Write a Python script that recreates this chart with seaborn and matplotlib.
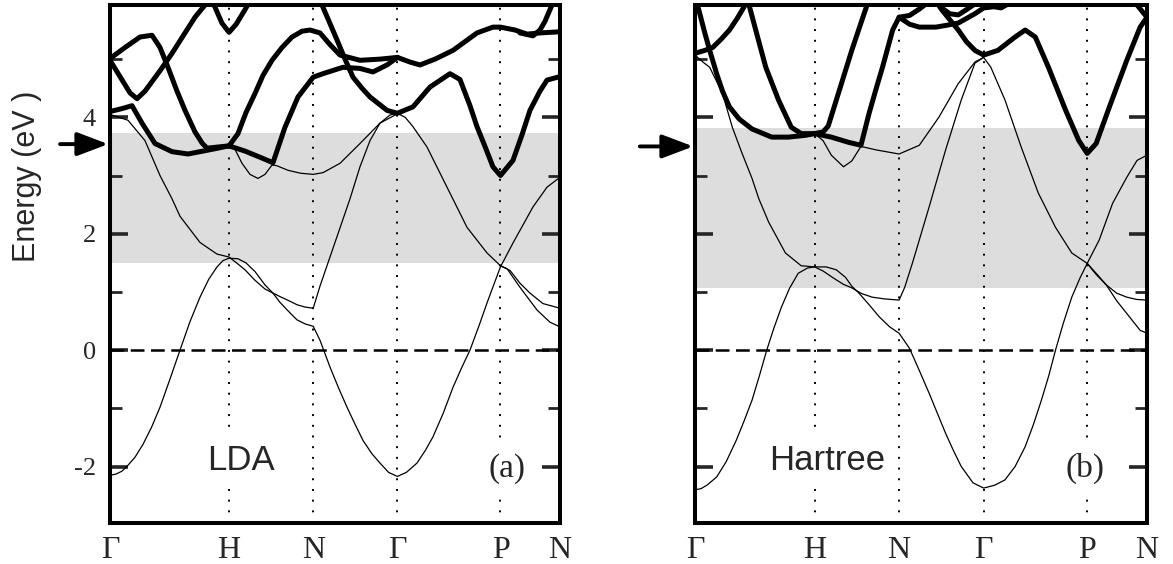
import matplotlib
matplotlib.use('Agg')
import pandas as pd
import matplotlib.pyplot as plt
import seaborn as sns

# high-symmetry points along the bcc path (units of 2pi/a)
sym_k = [0, 1.0, 1.7071, 2.4142, 3.2802, 3.7802]
sym_labels = ['Γ', 'H', 'N', 'Γ', 'P', 'N']

# ---- LDA bands (k, E in eV) ----
lda_t1_k = [0, 0.05, 0.10, 0.15, 0.21, 0.277, 0.35, 0.42, 0.50, 0.588, 0.67, 0.756, 0.83, 0.899, 0.95, 1.0,
            1.075, 1.142, 1.218, 1.302, 1.369, 1.428, 1.512, 1.571, 1.640, 1.707, 1.764, 1.848, 1.92, 1.991,
            2.06, 2.125, 2.20, 2.268, 2.34, 2.414, 2.49, 2.579, 2.65, 2.713, 2.80, 2.881, 2.95, 3.024, 3.10,
            3.167, 3.225, 3.280, 3.385, 3.553, 3.671, 3.780]
lda_t1_e = [-2.15, -2.13, -2.08, -1.98, -1.84, -1.62, -1.32, -0.98, -0.52, 0.0, 0.48, 0.91, 1.22, 1.43, 1.54,
            1.58, 1.57, 1.50, 1.35, 1.12, 0.98, 0.82, 0.64, 0.52, 0.45, 0.41, 0.17, -0.29, -0.65, -0.98,
            -1.28, -1.55, -1.78, -1.94, -2.10, -2.17, -2.10, -1.94, -1.72, -1.49, -1.08, -0.64, -0.32, 0.0,
            0.42, 0.81, 1.13, 1.43, 1.84, 2.46, 2.80, 2.97]
lda_t2_k = [0, 0.151, 0.294, 0.420, 0.521, 0.588, 0.756, 0.899, 1.0, 1.075, 1.134, 1.218, 1.302, 1.369, 1.428,
            1.512, 1.571, 1.640, 1.707, 1.764, 1.848, 1.932, 2.016, 2.100, 2.184, 2.268, 2.352, 2.414, 2.480,
            2.545, 2.663, 2.831, 2.999, 3.167, 3.280, 3.360, 3.444, 3.528, 3.637, 3.780]
lda_t2_e = [4.05, 3.95, 3.60, 3.00, 2.60, 2.30, 1.85, 1.65, 1.60, 1.48, 1.38, 1.20, 1.05, 0.98, 0.92,
            0.84, 0.78, 0.74, 0.72, 1.10, 1.60, 2.10, 2.60, 3.15, 3.60, 3.90, 4.04, 4.07, 4.00,
            3.84, 3.49, 2.80, 2.11, 1.67, 1.45, 1.37, 1.15, 0.98, 0.80, 0.72]
lda_t3_k = [1.0, 1.05, 1.109, 1.176, 1.243, 1.302, 1.361, 1.40, 1.495, 1.60, 1.707, 1.790, 1.932, 2.100,
            2.268, 2.414]
lda_t3_e = [3.51, 3.45, 3.21, 3.02, 2.95, 3.02, 3.18, 3.17, 3.09, 3.04, 3.02, 3.05, 3.21, 3.55, 3.90, 4.06]
lda_t4_k = [3.280, 3.335, 3.444, 3.587, 3.696, 3.780]
lda_t4_e = [1.45, 1.40, 1.08, 0.69, 0.48, 0.40]
lda_u1_k = [0, 0.101, 0.185, 0.269, 0.378, 0.521, 0.655, 0.857, 1.0, 1.134, 1.277, 1.369, 1.470, 1.579,
            1.707, 1.789, 1.957, 2.100, 2.209, 2.327, 2.414, 2.520, 2.604, 2.730, 2.881, 2.982, 3.083,
            3.217, 3.280, 3.402, 3.503, 3.612, 3.780]
lda_u1_e = [4.10, 4.15, 4.20, 3.90, 3.55, 3.41, 3.37, 3.45, 3.51, 3.42, 3.30, 3.22, 3.83, 4.35,
            4.69, 4.75, 4.86, 4.84, 4.78, 4.90, 5.03, 4.95, 4.90, 5.00, 5.15, 5.30, 5.45,
            5.55, 5.55, 5.50, 5.43, 5.45, 5.47]
lda_u2_k = [0, 0.126, 0.252, 0.353, 0.420, 0.487, 0.563, 0.630, 0.714, 0.773, 0.815, 0.907, 1.0, 1.075,
            1.142, 1.218, 1.285, 1.361, 1.445, 1.529, 1.613, 1.680, 1.764, 1.848, 1.932, 2.100, 2.268, 2.414]
lda_u2_e = [5.01, 5.20, 5.38, 5.41, 5.20, 4.86, 4.45, 4.12, 3.75, 3.56, 3.47, 3.49, 3.51, 3.72,
            4.08, 4.41, 4.72, 4.98, 5.20, 5.38, 5.48, 5.50, 5.45, 5.25, 5.07, 4.98, 5.00, 5.03]
lda_u3_k = [0, 0.084, 0.168, 0.227, 0.294, 0.420, 0.521, 0.630, 0.714, 0.798, 0.836, 0.874, 0.940, 1.0,
            1.060, 1.134, 1.176, 1.302, 1.512, 1.680, 1.781, 1.907, 1.974, 2.041, 2.117, 2.184, 2.327,
            2.414, 2.545, 2.688, 2.856, 2.940, 3.024, 3.083, 3.150, 3.217, 3.280, 3.385, 3.461, 3.528,
            3.612, 3.671, 3.780]
lda_u3_e = [4.98, 4.70, 4.42, 4.32, 4.45, 4.80, 5.10, 5.45, 5.72, 5.93, 6.00, 5.93, 5.62, 5.46,
            5.60, 5.85, 6.00, 6.40, 6.60, 6.30, 5.93, 5.33, 5.00, 4.69, 4.50, 4.35, 4.12,
            4.07, 4.18, 4.52, 4.75, 4.65, 4.20, 3.84, 3.50, 3.15, 3.00, 3.26, 3.70, 4.12,
            4.45, 4.64, 4.70]
lda_u4_k = [3.444, 3.553, 3.612, 3.654, 3.696, 3.738, 3.780]
lda_u4_e = [5.45, 5.40, 5.50, 5.65, 5.85, 6.05, 6.20]

# ---- Hartree bands ----
hf_t1_k = [0, 0.05, 0.10, 0.181, 0.26, 0.345, 0.41, 0.477, 0.54, 0.600, 0.66, 0.723, 0.79, 0.863, 0.94, 1.0,
           1.097, 1.182, 1.259, 1.311, 1.371, 1.456, 1.542, 1.628, 1.707, 1.754, 1.794, 1.876, 1.958, 2.03,
           2.096, 2.16, 2.227, 2.325, 2.414, 2.507, 2.592, 2.677, 2.761, 2.83, 2.897, 2.96, 3.015, 3.08,
           3.151, 3.22, 3.280, 3.380, 3.492, 3.611, 3.697, 3.780]
hf_t1_e = [-2.40, -2.38, -2.32, -2.18, -1.92, -1.55, -1.22, -0.86, -0.43, 0.0, 0.38, 0.74, 1.06, 1.32, 1.41,
           1.43, 1.43, 1.38, 1.25, 1.10, 0.98, 0.78, 0.57, 0.40, 0.29, 0.15, 0.03, -0.35, -0.74, -1.10,
           -1.43, -1.72, -2.00, -2.28, -2.37, -2.32, -2.23, -2.00, -1.66, -1.28, -0.86, -0.43, 0.0, 0.46,
           0.91, 1.24, 1.49, 1.89, 2.52, 2.97, 3.26, 3.35]
hf_t2_k = [0, 0.066, 0.123, 0.230, 0.312, 0.394, 0.477, 0.534, 0.616, 0.756, 0.888, 1.0, 1.071, 1.157,
           1.242, 1.311, 1.396, 1.482, 1.585, 1.707, 1.754, 1.819, 1.958, 2.096, 2.227, 2.341, 2.414,
           2.474, 2.592, 2.728, 2.871, 3.015, 3.151, 3.280, 3.355, 3.440, 3.526, 3.611, 3.697, 3.780]
hf_t2_e = [5.07, 4.95, 4.86, 4.41, 3.83, 3.38, 2.95, 2.60, 2.20, 1.67, 1.45, 1.43, 1.36, 1.24,
           1.13, 1.07, 0.97, 0.91, 0.88, 0.86, 1.08, 1.50, 2.46, 3.44, 4.30, 4.93, 5.03,
           4.86, 4.30, 3.49, 2.70, 2.11, 1.67, 1.49, 1.32, 1.12, 0.98, 0.91, 0.87, 0.86]
hf_t3_k = [1.0, 1.071, 1.140, 1.242, 1.311, 1.388, 1.516, 1.707, 1.876, 2.039, 2.202, 2.341, 2.414]
hf_t3_e = [3.72, 3.60, 3.35, 3.15, 3.25, 3.50, 3.44, 3.37, 3.52, 4.00, 4.58, 4.95, 5.03]
hf_t4_k = [3.280, 3.355, 3.440, 3.526, 3.611, 3.723, 3.780]
hf_t4_e = [1.49, 1.30, 1.12, 0.85, 0.63, 0.34, 0.29]
hf_u1_k = [0, 0.082, 0.148, 0.222, 0.288, 0.353, 0.411, 0.452, 0.50]
hf_u1_e = [5.10, 5.15, 5.20, 5.35, 5.50, 5.70, 5.90, 6.05, 6.20]
hf_u2_k = [0, 0.025, 0.082, 0.123, 0.181, 0.230, 0.288, 0.370, 0.477, 0.641, 0.781, 0.921, 1.0, 1.140,
           1.285, 1.388, 1.456, 1.516, 1.568, 1.653, 1.707, 1.794, 1.876, 1.933, 1.980, 2.030, 2.063,
           2.130, 2.202, 2.270, 2.341, 2.414, 2.533, 2.677, 2.761, 2.846, 2.956, 3.100, 3.210, 3.280,
           3.355, 3.466, 3.611, 3.723, 3.780]
hf_u2_e = [6.10, 5.90, 5.45, 5.15, 4.75, 4.45, 4.18, 3.97, 3.80, 3.66, 3.66, 3.69, 3.72, 3.66,
           3.57, 3.52, 4.07, 4.50, 4.86, 5.50, 5.72, 5.75, 5.86, 5.95, 6.00, 5.95, 5.85,
           5.68, 5.50, 5.30, 5.15, 5.07, 5.15, 5.38, 5.50, 5.38, 4.86, 4.12, 3.60, 3.38,
           3.55, 4.18, 4.98, 5.55, 5.72]
hf_u3_k = [0.400, 0.452, 0.534, 0.592, 0.698, 0.805, 0.888, 1.0, 1.071, 1.114, 1.199, 1.311, 1.396,
           1.439, 1.480]
hf_u3_e = [6.20, 5.93, 5.30, 4.86, 4.30, 3.83, 3.72, 3.72, 3.75, 3.85, 4.41, 5.15, 5.67, 5.93, 6.15]
hf_u4_k = [1.707, 1.794, 1.876, 2.015, 2.100, 2.202, 2.341, 2.414, 2.500, 2.560, 2.620, 2.680]
hf_u4_e = [5.72, 5.60, 5.55, 5.55, 5.58, 5.62, 5.78, 5.88, 5.90, 5.88, 5.95, 6.10]
hf_u5_k = [2.015, 2.063, 2.130, 2.202, 2.270, 2.341, 2.380]
hf_u5_e = [6.00, 5.88, 5.78, 5.76, 5.85, 5.95, 6.05]
hf_u6_k = [3.650, 3.697, 3.740, 3.780]
hf_u6_e = [6.10, 5.93, 5.82, 5.72]

# shaded gap and arrow energy for each panel
gap_lda = (1.49, 3.73)
gap_hf = (1.06, 3.81)
arrow_lda = 3.54
arrow_hf = 3.50


def band_df(k, e, kind, name):
    return pd.DataFrame({'k': k, 'E': e, 'kind': kind, 'band': name})


lda_df = pd.concat([
    band_df(lda_t1_k, lda_t1_e, 'thin', 't1'),
    band_df(lda_t2_k, lda_t2_e, 'thin', 't2'),
    band_df(lda_t3_k, lda_t3_e, 'thin', 't3'),
    band_df(lda_t4_k, lda_t4_e, 'thin', 't4'),
    band_df(lda_u1_k, lda_u1_e, 'thick', 'u1'),
    band_df(lda_u2_k, lda_u2_e, 'thick', 'u2'),
    band_df(lda_u3_k, lda_u3_e, 'thick', 'u3'),
    band_df(lda_u4_k, lda_u4_e, 'thick', 'u4'),
], ignore_index=True)

hf_df = pd.concat([
    band_df(hf_t1_k, hf_t1_e, 'thin', 't1'),
    band_df(hf_t2_k, hf_t2_e, 'thin', 't2'),
    band_df(hf_t3_k, hf_t3_e, 'thin', 't3'),
    band_df(hf_t4_k, hf_t4_e, 'thin', 't4'),
    band_df(hf_u1_k, hf_u1_e, 'thick', 'u1'),
    band_df(hf_u2_k, hf_u2_e, 'thick', 'u2'),
    band_df(hf_u3_k, hf_u3_e, 'thick', 'u3'),
    band_df(hf_u4_k, hf_u4_e, 'thick', 'u4'),
    band_df(hf_u5_k, hf_u5_e, 'thick', 'u5'),
    band_df(hf_u6_k, hf_u6_e, 'thick', 'u6'),
], ignore_index=True)

sns.set_style('white')
plt.rcParams['font.family'] = ['Liberation Serif', 'DejaVu Serif']
plt.rcParams['axes.unicode_minus'] = False

fig = plt.figure(figsize=(11.73, 5.64), dpi=100)
ax1 = fig.add_axes([110 / 1173, 41 / 564, 450 / 1173, 518 / 564])
ax2 = fig.add_axes([695 / 1173, 41 / 564, 452 / 1173, 518 / 564])


def draw_panel(ax, df, gap, arrow_e, name, tag, name_x, tag_x, arrow_x0):
    ax.axhspan(gap[0], gap[1], color='#dddddd', lw=0, zorder=0)
    for kv in sym_k[1:-1]:
        ax.axvline(kv, color='black', lw=1.4, ls=(0, (1, 4.5)), zorder=1)
    ax.axhline(0, color='black', lw=1.8, ls=(0, (5.5, 2.6)), zorder=2)
    sns.lineplot(data=df, x='k', y='E', units='band', estimator=None, size='kind',
                 sizes={'thick': 3.6, 'thin': 0.9}, color='black', sort=False,
                 legend=False, ax=ax, zorder=4, solid_joinstyle='round')
    ax.set_xlim(sym_k[0], sym_k[-1])
    ax.set_ylim(-2.97, 5.93)
    ax.set_xlabel('')
    ax.set_ylabel('')
    ax.set_xticks(sym_k)
    ax.set_xticklabels(sym_labels)
    ax.set_yticks([-2, 0, 2, 4])
    ax.set_yticks([-1, 1, 3, 5], minor=True)
    ax.tick_params(axis='y', which='major', direction='in', length=13, width=2.6,
                   left=True, right=True, labelsize=19, pad=10)
    ax.tick_params(axis='y', which='minor', direction='in', length=8.5, width=2,
                   left=True, right=True)
    ax.tick_params(axis='x', length=0, labelsize=23, pad=9)
    for s in ax.spines.values():
        s.set_linewidth(2.9)
        s.set_color('black')
    box = dict(boxstyle='square,pad=0.25', fc='white', ec='none')
    ax.text(name_x, 0.102, name, transform=ax.transAxes, ha='center', va='baseline',
            fontsize=25, family='Liberation Sans', bbox=box, zorder=3)
    ax.text(tag_x, 0.090, tag, transform=ax.transAxes, ha='center', va='baseline',
            fontsize=24, bbox=box, zorder=3)
    ax.annotate('', xy=(-0.004, arrow_e), xytext=(arrow_x0, arrow_e),
                xycoords=('axes fraction', 'data'), textcoords=('axes fraction', 'data'),
                arrowprops=dict(arrowstyle='-|>,head_length=0.95,head_width=0.36', color='black',
                                lw=2.8, shrinkA=0, shrinkB=0, mutation_scale=20),
                annotation_clip=False)


draw_panel(ax1, lda_df, gap_lda, arrow_lda, 'LDA', '(a)', 0.291, 0.882, -0.111)
draw_panel(ax2, hf_df, gap_hf, arrow_hf, 'Hartree', '(b)', 0.293, 0.863, -0.122)
ax2.tick_params(axis='y', labelleft=False)

fig.text(27 / 1173, 1 - 176 / 564, 'Energy (eV )', rotation=90, ha='center', va='center',
         fontsize=22, family='Liberation Sans')

fig.savefig('out.png', dpi=100)
